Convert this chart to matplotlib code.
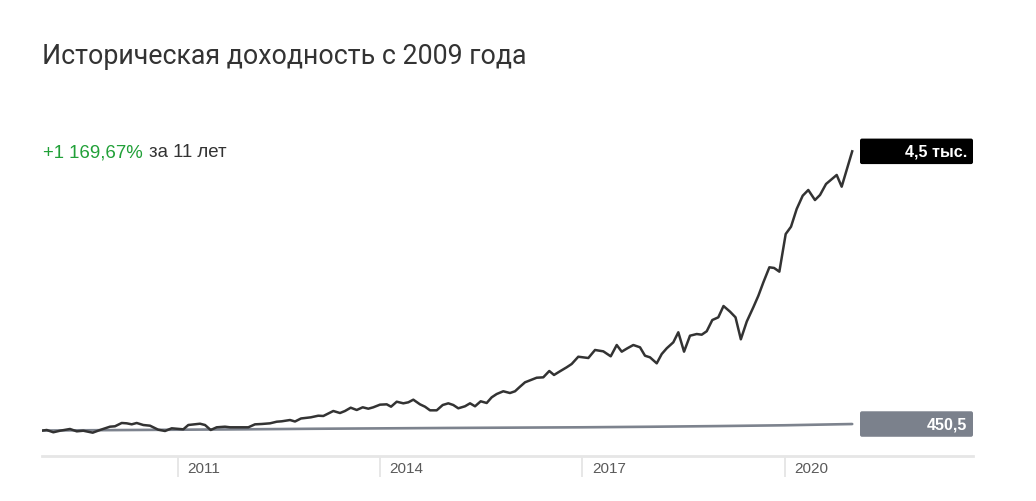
import matplotlib
matplotlib.use("Agg")
import matplotlib.pyplot as plt
import matplotlib.transforms as mtransforms
from matplotlib.patches import FancyBboxPatch

# ---- data ----
fund_years = [
    2009.000, 2009.058, 2009.156, 2009.255, 2009.403, 2009.503, 2009.600, 2009.740, 2009.848, 2009.996,
    2010.070, 2010.170, 2010.244, 2010.318, 2010.392, 2010.490, 2010.589, 2010.712, 2010.812, 2010.911,
    2011.034, 2011.083, 2011.157, 2011.331, 2011.405, 2011.489, 2011.578, 2011.701, 2011.775, 2011.924,
    2012.047, 2012.146, 2012.245, 2012.369, 2012.468, 2012.542, 2012.665, 2012.739, 2012.828, 2012.973,
    2013.084, 2013.159, 2013.307, 2013.406, 2013.480, 2013.565, 2013.654, 2013.743, 2013.826, 2013.900,
    2013.999, 2014.099, 2014.163, 2014.247, 2014.345, 2014.419, 2014.493, 2014.592, 2014.666, 2014.741,
    2014.840, 2014.929, 2015.012, 2015.086, 2015.160, 2015.259, 2015.334, 2015.408, 2015.492, 2015.581,
    2015.655, 2015.729, 2015.827, 2015.926, 2016.001, 2016.075, 2016.149, 2016.248, 2016.322, 2016.420,
    2016.509, 2016.579, 2016.668, 2016.767, 2016.841, 2016.939, 2017.088, 2017.187, 2017.310, 2017.420,
    2017.509, 2017.583, 2017.666, 2017.755, 2017.854, 2017.928, 2018.002, 2018.102, 2018.176, 2018.250,
    2018.348, 2018.422, 2018.507, 2018.595, 2018.695, 2018.769, 2018.843, 2018.926, 2019.015, 2019.092,
    2019.189, 2019.270, 2019.349, 2019.437, 2019.534, 2019.609, 2019.683, 2019.772, 2019.842, 2019.920,
    2020.014, 2020.093, 2020.177, 2020.266, 2020.349, 2020.448, 2020.523, 2020.612, 2020.770, 2020.844,
    2021.000,
]
fund_values = [
    354, 362, 328, 351, 377, 342, 351, 322, 362, 411,
    417, 466, 461, 446, 466, 436, 426, 366, 347, 387,
    377, 372, 436, 455, 436, 362, 402, 411, 402, 402,
    402, 446, 451, 461, 485, 491, 510, 488, 533, 550,
    574, 570, 644, 614, 644, 693, 659, 699, 678, 699,
    738, 743, 708, 782, 758, 773, 812, 743, 708, 654,
    654, 733, 758, 733, 684, 714, 758, 714, 788, 763,
    847, 896, 937, 911, 937, 1005, 1070, 1109, 1138, 1144,
    1238, 1179, 1234, 1293, 1342, 1450, 1431, 1550, 1530, 1456,
    1624, 1525, 1575, 1624, 1590, 1465, 1441, 1352, 1490, 1575,
    1664, 1813, 1525, 1762, 1787, 1777, 1828, 1995, 2035, 2203,
    2119, 2035, 1709, 1973, 2184, 2356, 2555, 2778, 2768, 2713,
    3272, 3381, 3644, 3841, 3926, 3777, 3852, 4015, 4149, 3975,
    4500,
]
bench_years = [2009, 2010, 2011, 2012, 2013, 2014, 2015, 2016, 2017, 2018, 2019, 2020, 2021]
bench_values = [354, 360, 366, 372, 380, 386, 392, 397, 402, 410, 420, 432, 450.5]

tick_years = [2011, 2014, 2017, 2020]
tick_labels = ["2011", "2014", "2017", "2020"]

title = "Историческая доходность с 2009 года"
gain_text = "+1 169,67%"
period_text = "за 11 лет"
fund_label = "4,5 тыс."
bench_label = "450,5"

# ---- styling ----
W, H = 1036, 502
fig = plt.figure(figsize=(W / 100, H / 100), dpi=100)
fig.patch.set_facecolor("white")

left_px, right_px = 42, 973
bottom_px, top_px = 457, 130
ax = fig.add_axes([left_px / W, (H - bottom_px) / H,
                   (right_px - left_px) / W, (bottom_px - top_px) / H])
ymin, ymax = -24.3, 4831.7
ax.set_xlim(2008.988, 2022.791)
ax.set_ylim(ymin, ymax)

for s in ["top", "right", "left"]:
    ax.spines[s].set_visible(False)
ax.spines["bottom"].set_color("#e6e6e6")
ax.spines["bottom"].set_linewidth(2)
ax.set_yticks([])
ax.set_xticks(tick_years)
ax.set_xticklabels([""] * len(tick_years))
ax.tick_params(axis="x", direction="out", length=15, width=1.2, color="#e3e3e3")

for yr, lab in zip(tick_years, tick_labels):
    ax.annotate(lab, xy=(yr, 0), xycoords=("data", "axes fraction"),
                xytext=(6.8, -8.6), textcoords="offset points",
                ha="left", va="center", fontsize=11, color="#5a5a5a",
                family="Liberation Sans")

ax.plot(bench_years, bench_values, color="#7d838e", lw=1.9,
        solid_capstyle="round", zorder=2)
ax.plot(fund_years, fund_values, color="#333333", lw=1.8, solid_joinstyle="round", zorder=3)

# end-value boxes
box_x0 = (860 - left_px) / (right_px - left_px)
blend = mtransforms.blended_transform_factory(ax.transAxes, ax.transData)
px_per_unit = (bottom_px - top_px) / (ymax - ymin)
box_h = 25.5 / px_per_unit
ax_w_px = right_px - left_px
for val, lab, col in [(fund_values[-1], fund_label, "#000000"),
                      (bench_values[-1], bench_label, "#7b818c")]:
    r = 2.0  # corner radius in pixels
    ax.add_patch(FancyBboxPatch((box_x0, val - box_h / 2), 1 - box_x0, box_h,
                                boxstyle=f"round,pad=0,rounding_size={r / ax_w_px}",
                                mutation_aspect=(1 / px_per_unit) / (1 / ax_w_px),
                                transform=blend, facecolor=col, edgecolor="none",
                                clip_on=False, zorder=4))
    ax.annotate(lab, xy=(1, val), xycoords=blend, xytext=(-4, 0),
                textcoords="offset points", ha="right", va="center",
                fontsize=11.6, fontweight="bold", color="white",
                family="Liberation Sans", zorder=5)

# title and summary
fig.text(42 / W, (H - 64) / H, title, fontsize=19.3, color="#333333",
         family="Roboto", va="baseline", ha="left")
t1 = fig.text(43 / W, (H - 157) / H, gain_text, fontsize=13.4, color="#21a038",
              family="Liberation Sans", va="baseline", ha="left")
fig.canvas.draw()
bb = t1.get_window_extent()
fig.text((bb.x1 + 6) / W, (H - 157) / H, period_text, fontsize=13.4, color="#333333",
         family="Liberation Sans", va="baseline", ha="left")

fig.savefig("out.png", dpi=100, facecolor="white")
